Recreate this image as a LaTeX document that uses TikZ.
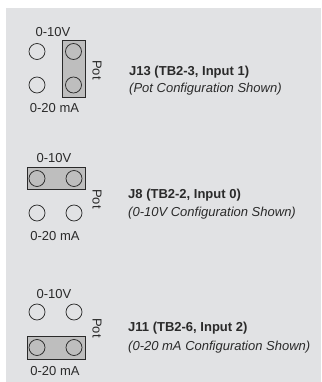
\documentclass[tikz,border=0pt]{standalone}
\usepackage{fontspec}
\setmainfont{Liberation Sans}
\definecolor{bg}{HTML}{E1E2E4}
\definecolor{jfill}{HTML}{BEBEBE}
\definecolor{ink}{HTML}{2A2A2A}
\begin{document}
\begin{tikzpicture}[x=1pt,y=-1pt,
  pin/.style={circle,draw=ink,line width=0.75pt,minimum size=16pt,inner sep=0pt},
  jumper/.style={draw=ink,line width=0.75pt,fill=jfill,inner sep=0pt},
  lbl/.style={font=\fontsize{13}{15}\selectfont,text=ink,inner sep=0pt},
  potlbl/.style={lbl,rotate=-90},
  title/.style={lbl,font=\fontsize{13}{15}\selectfont\bfseries,anchor=west},
  sub/.style={lbl,font=\fontsize{13}{15}\selectfont\itshape,anchor=west}]
\useasboundingbox (0,0) rectangle (321,382);
\fill[bg] (6,8) rectangle (321,382);
% Block 1 (J13)
\node[jumper,minimum width=23pt,minimum height=57pt] (r1) at (73.5,68.5) {};
\node[pin] (a1) at (37,51.5) {};
\node[pin] (b1) at (73.5,51.5) {};
\node[pin] (c1) at (37,85) {};
\node[pin] (d1) at (73.5,85) {};
\node[lbl] (v1) at (53,32) {0-10V};
\node[lbl] (m1) at (54.5,108) {0-20 mA};
\node[potlbl] (p1) at (97,70) {Pot};
\node[title] (t1) at (129,72) {J13 (TB2-3, Input 1)};
\node[sub] (s1) at (129,89) {(Pot Configuration Shown)};
% Block 2 (J8)
\node[jumper,minimum width=58pt,minimum height=22pt] (r2) at (56,178.5) {};
\node[pin] (a2) at (37,178.5) {};
\node[pin] (b2) at (74,178.5) {};
\node[pin] (c2) at (37,213) {};
\node[pin] (d2) at (74,213) {};
\node[lbl] (v2) at (54,158) {0-10V};
\node[lbl] (m2) at (55,236) {0-20 mA};
\node[potlbl] (p2) at (97,199) {Pot};
\node[title] (t2) at (128,195) {J8 (TB2-2, Input 0)};
\node[sub] (s2) at (128,213) {(0-10V Configuration Shown)};
% Block 3 (J11)
\node[jumper,minimum width=58pt,minimum height=23pt] (r3) at (56,347.5) {};
\node[pin] (a3) at (37,312) {};
\node[pin] (b3) at (74,312) {};
\node[pin] (c3) at (37,347.5) {};
\node[pin] (d3) at (74,347.5) {};
\node[lbl] (v3) at (54,294) {0-10V};
\node[lbl] (m3) at (55,371) {0-20 mA};
\node[potlbl] (p3) at (97,328) {Pot};
\node[title] (t3) at (128,328) {J11 (TB2-6, Input 2)};
\node[sub] (s3) at (128,347) {(0-20 mA Configuration Shown)};
\end{tikzpicture}
\end{document}
